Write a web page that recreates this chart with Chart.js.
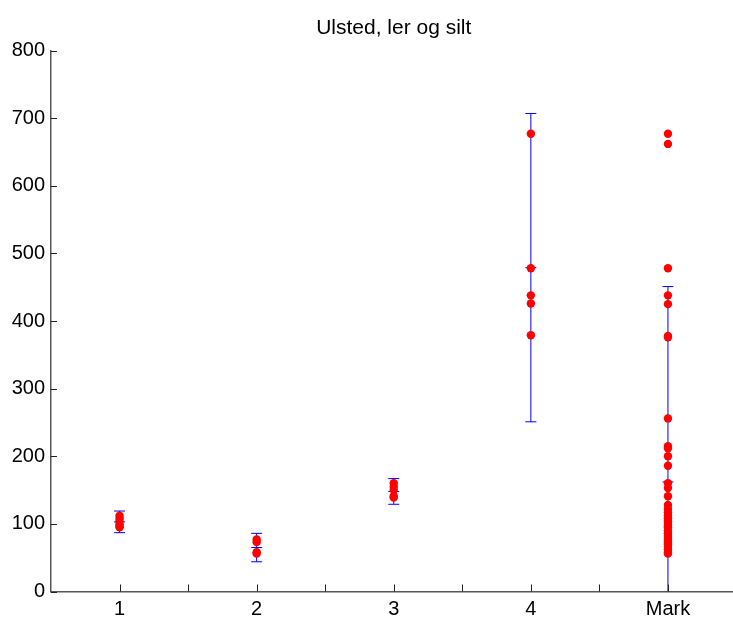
<!DOCTYPE html>
<html>
<head>
<meta charset="utf-8">
<script src="https://cdn.jsdelivr.net/npm/chart.js@4/dist/chart.umd.min.js"></script>
<style>
  html, body { margin: 0; padding: 0; background: #fff; overflow: hidden; }
  #wrap { position: relative; width: 740px; height: 617px; }
</style>
</head>
<body>
<div id="wrap"><canvas id="chart"></canvas></div>
<script>
// category labels on the x axis (positions 1..5)
const xLabels = ['1', '2', '3', '4', 'Mark'];

const group1 = [112, 108, 104, 100, 97, 95];
const group2 = [77, 73, 58, 56];
const group3 = [160, 155, 150, 141, 139];
const group4 = [677, 478, 438, 426, 379];
const groupMark = [677, 662, 478, 438, 425, 378, 376, 256, 215, 212, 200, 186, 160, 153, 141,
    128, 122, 117, 112, 108, 104, 100, 97, 95, 90, 86, 82, 78, 75, 73, 70, 66, 62, 58, 56];

// mean and error bar half-width per group
const means = [103, 65, 148, 479, 162];
const errors = [16, 21, 19, 228, 289];

const yTicks = [0, 100, 200, 300, 400, 500, 600, 700, 800];

const groups = [group1, group2, group3, group4, groupMark];

// red dots
let dots = [];
groups.forEach((g, i) => {
    g.forEach(v => dots.push({ x: i + 1, y: v }));
});

// vertical error bar lines, separated by gaps
let barLines = [];
means.forEach((m, i) => {
    barLines.push({ x: i + 1, y: m - errors[i] });
    barLines.push({ x: i + 1, y: m + errors[i] });
    barLines.push({ x: i + 1.5, y: null });
});

// caps at low, high and mean
let caps = [];
means.forEach((m, i) => {
    caps.push({ x: i + 1, y: m - errors[i] });
    caps.push({ x: i + 1, y: m + errors[i] });
    caps.push({ x: i + 1, y: m });
});

// ticks pointing into the plot, like the original
const innerTicks = {
    id: 'innerTicks',
    afterDraw(chart) {
        const { ctx, chartArea: { bottom, left }, scales: { x, y } } = chart;
        ctx.save();
        ctx.strokeStyle = '#222';
        ctx.lineWidth = 1;
        x.ticks.forEach(t => {
            const px = Math.round(x.getPixelForValue(t.value)) + 0.5;
            ctx.beginPath();
            ctx.moveTo(px, bottom);
            ctx.lineTo(px, bottom - 7);
            ctx.stroke();
        });
        y.ticks.forEach(t => {
            const py = Math.round(y.getPixelForValue(t.value)) + 0.5;
            ctx.beginPath();
            ctx.moveTo(left, py);
            ctx.lineTo(left + 6, py);
            ctx.stroke();
        });
        ctx.restore();
    }
};

const font = 'Liberation Sans, Arial, Helvetica, sans-serif';

const config = {
    type: 'scatter',
    data: {
        datasets: [
            {
                label: 'values',
                data: dots,
                pointRadius: 4.2,
                pointHoverRadius: 4.2,
                backgroundColor: '#ff0000',
                borderWidth: 0
            },
            {
                label: 'caps',
                data: caps,
                pointStyle: 'line',
                pointRadius: 5.5,
                pointHoverRadius: 5.5,
                borderColor: '#0000ff',
                borderWidth: 1
            },
            {
                label: 'bars',
                type: 'line',
                data: barLines,
                borderColor: '#0000ff',
                borderWidth: 1,
                pointRadius: 0,
                spanGaps: false,
                fill: false
            }
        ]
    },
    options: {
        responsive: true,
        maintainAspectRatio: false,
        animation: false,
        layout: { autoPadding: false, padding: { left: 0, right: 3.5, top: 0, bottom: 0 } },
        plugins: {
            legend: { display: false },
            tooltip: { enabled: false },
            title: {
                display: true,
                fullSize: false,
                text: 'Ulsted, ler og silt',
                color: '#000',
                font: { family: font, size: 21, weight: 'normal' },
                padding: { top: 16, bottom: 9.4 }
            }
        },
        scales: {
            x: {
                type: 'linear',
                min: 0.5,
                max: 5.5,
                afterBuildTicks: (scale) => {
                    scale.ticks = [];
                    for (let v = 1; v <= 5; v += 0.5) scale.ticks.push({ value: v });
                },
                afterFit: (scale) => { scale.height = 25.5; },
                ticks: {
                    autoSkip: false,
                    maxRotation: 0,
                    padding: 6,
                    color: '#000',
                    font: { family: font, size: 20 },
                    callback: (v) => Number.isInteger(v) ? xLabels[v - 1] : ''
                },
                grid: { display: true, drawOnChartArea: false, drawTicks: false, color: 'rgba(0,0,0,0)' },
                border: { display: true, color: '#555', width: 1.5 }
            },
            y: {
                min: 0,
                max: 800,
                afterBuildTicks: (scale) => {
                    scale.ticks = yTicks.map(v => ({ value: v }));
                },
                afterFit: (scale) => { scale.width = 51; },
                ticks: {
                    padding: 6,
                    color: '#000',
                    font: { family: font, size: 20 }
                },
                grid: { display: true, drawOnChartArea: false, drawTicks: false, color: 'rgba(0,0,0,0)' },
                border: { display: true, color: '#555', width: 1.5 }
            }
        }
    },
    plugins: [innerTicks]
};

const ctx = document.getElementById('chart').getContext('2d');
window.chart = new Chart(ctx, config);
</script>
</body>
</html>
